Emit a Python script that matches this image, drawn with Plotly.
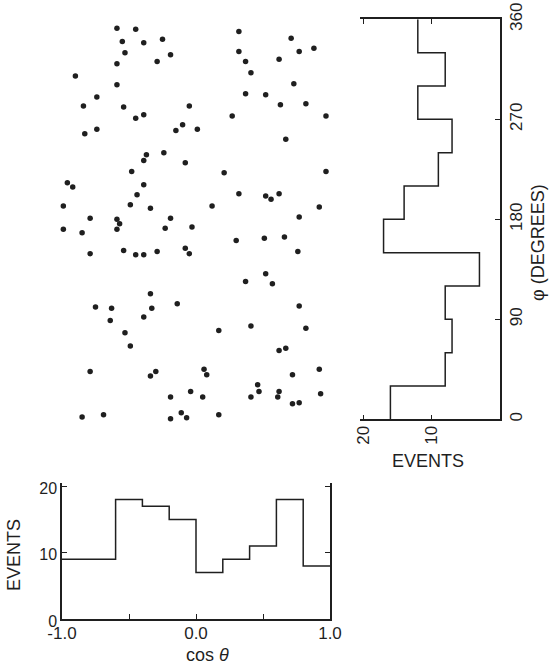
import plotly.graph_objects as go

# ---- data -------------------------------------------------------------
# cos(theta) projection: 10 bins of width 0.2
cos_edges = [-1.0, -0.8, -0.6, -0.4, -0.2, 0.0, 0.2, 0.4, 0.6, 0.8, 1.0]
cos_counts = [9, 9, 18, 17, 15, 7, 9, 11, 18, 8]

# phi projection: 12 bins of 30 degrees
phi_edges = [0, 30, 60, 90, 120, 150, 180, 210, 240, 270, 300, 330, 360]
phi_counts = [16, 8, 7, 8, 3, 17, 14, 9, 7, 12, 8, 12]

# individual events (cos theta, phi in degrees)
cos_theta = [
    -0.59, -0.45, -0.55, -0.39, -0.25, -0.53, -0.19, -0.59, -0.29, -0.90,
    -0.59, -0.74, -0.84, -0.54, -0.05, -0.45, -0.39, -0.74, -0.83, -0.10,
    -0.15,
    0.32, 0.71, 0.32, 0.77, 0.88, 0.37, 0.62, 0.41, 0.73, 0.37,
    0.52, 0.63, 0.82, 0.27, 0.97, 0.01, 0.67,
    -0.24, -0.37, -0.39, -0.08, -0.48, -0.96, -0.92, -0.39, -0.44, -0.99,
    -0.49, -0.34, -0.79, -0.59, -0.57, -0.59, -0.19, -0.23, -0.03, -0.99,
    -0.85, -0.79, -0.54, -0.45, -0.39, -0.29, -0.08, -0.05,
    0.21, 0.97, 0.32, 0.52, 0.56, 0.62, 0.12, 0.92, 0.77, 0.30,
    0.51, 0.66, 0.76, 0.52, 0.37, 0.57,
    -0.34, -0.75, -0.63, -0.33, -0.14, -0.39, -0.64, -0.53, -0.49, -0.79,
    -0.30, -0.34, -0.04, -0.19, -0.85, -0.69, -0.11, -0.07, -0.19,
    0.77, 0.17, 0.41, 0.82, 0.62, 0.67, 0.06, 0.08, 0.72, 0.92,
    0.05, 0.46, 0.47, 0.41, 0.62, 0.61, 0.93, 0.72, 0.77, 0.17,
]
phi_deg = [
    352, 351, 340, 339, 342, 330, 328, 320, 322, 309,
    301, 290, 282, 281, 282, 271, 274, 261, 257, 265,
    260,
    349, 343, 331, 331, 334, 322, 324, 312, 302, 293,
    292, 283, 284, 273, 273, 261, 252,
    240, 238, 233, 231, 223, 213, 209, 211, 202, 192,
    193, 190, 181, 180, 176, 171, 181, 172, 173, 171,
    168, 149, 152, 148, 148, 151, 154, 149,
    222, 223, 203, 201, 198, 203, 192, 191, 182, 161,
    163, 164, 151, 131, 124, 122,
    113, 101, 100, 100, 104, 92, 89, 78, 66, 43,
    43, 39, 25, 20, 2, 4, 6, 1.5, 0.5,
    102, 80, 84, 82, 62, 64, 45, 40, 40, 45,
    20, 31, 25, 20, 25, 20, 23, 14, 15, 4,
]

# ---- page geometry (pixels) -------------------------------------------
W, H = 556, 670
INK = "#1f1f1f"
FONT = "Liberation Sans"


def px(x):
    return x / W


def py(y):
    return 1 - y / H


# step outlines built from the bin edges and counts
cos_x, cos_y = [], []
for i, c in enumerate(cos_counts):
    cos_x += [cos_edges[i], cos_edges[i + 1]]
    cos_y += [c, c]

phi_x, phi_y = [], []
for i, c in enumerate(phi_counts):
    phi_x += [c, c]
    phi_y += [phi_edges[i], phi_edges[i + 1]]

fig = go.Figure()

# scatter of events
fig.add_trace(go.Scatter(
    x=cos_theta, y=phi_deg, mode="markers",
    marker=dict(size=5.5, color=INK),
    cliponaxis=False, xaxis="x", yaxis="y", showlegend=False,
))

# cos(theta) histogram
fig.add_trace(go.Scatter(
    x=cos_x, y=cos_y, mode="lines",
    line=dict(color=INK, width=1.5),
    xaxis="x2", yaxis="y2", showlegend=False,
))

# phi histogram (rotated)
fig.add_trace(go.Scatter(
    x=phi_x, y=phi_y, mode="lines",
    line=dict(color=INK, width=1.5),
    xaxis="x3", yaxis="y3", showlegend=False,
))

dom_x_main = [px(62), px(330)]
dom_y_main = [py(419.3), py(19.3)]

axis_common = dict(
    automargin=False, showgrid=False, zeroline=False,
    showline=True, linecolor=INK, linewidth=1.5,
    ticks="inside", ticklen=5, tickwidth=1.3, tickcolor=INK,
)


def tfont(size):
    return dict(family=FONT, size=size, color=INK)


def label(text, x, y, angle=0):
    return dict(text=text, x=px(x), y=py(y), xref="paper", yref="paper",
                xanchor="center", yanchor="middle", textangle=angle,
                showarrow=False, font=dict(family=FONT, size=18, color=INK))


fig.update_layout(
    template="none",
    width=W, height=H,
    margin=dict(l=0, r=0, t=0, b=0, pad=0),
    paper_bgcolor="white", plot_bgcolor="white",
    font=dict(family=FONT, color=INK),
    xaxis=dict(domain=dom_x_main, range=[-1, 1], visible=False,
               anchor="y", automargin=False),
    yaxis=dict(domain=dom_y_main, range=[0, 360], visible=False,
               anchor="x", automargin=False),
    xaxis2=dict(
        domain=dom_x_main, range=[-1, 1], anchor="y2", mirror=False,
        tickvals=[-1, -0.5, 0, 0.5, 1],
        ticktext=["-1.0", "", "0.0", "", "1.0"],
        ticklabelstandoff=-2, tickfont=tfont(17),
        **axis_common,
    ),
    yaxis2=dict(
        domain=[py(619), py(483)], range=[0, 20.5], anchor="x2",
        mirror="ticks",
        tickvals=[0, 10, 20], ticktext=["0", "10", "20"],
        ticklabelshift=2, tickfont=tfont(16),
        **axis_common,
    ),
    xaxis3=dict(
        domain=[px(360), px(500)], range=[20.44, 0], anchor="y3",
        mirror="ticks",
        tickvals=[20, 10], ticktext=["20", "10"], tickangle=-90,
        ticklabelstandoff=-2, tickfont=tfont(17),
        **axis_common,
    ),
    yaxis3=dict(
        domain=dom_y_main, range=[0, 360], anchor="x3", side="right",
        tickvals=[0, 90, 180, 270, 360],
        ticktext=["0", "90", "180", "270", "360"], tickangle=-90,
        tickfont=tfont(17),
        **axis_common,
    ),
    annotations=[
        label("EVENTS", 14, 555, -90),
        label("cos <i>θ</i>", 207, 655),
        label("EVENTS", 428, 461),
        label("φ (DEGREES)", 538, 243, -90),
    ],
)

fig.write_html("out.html")
